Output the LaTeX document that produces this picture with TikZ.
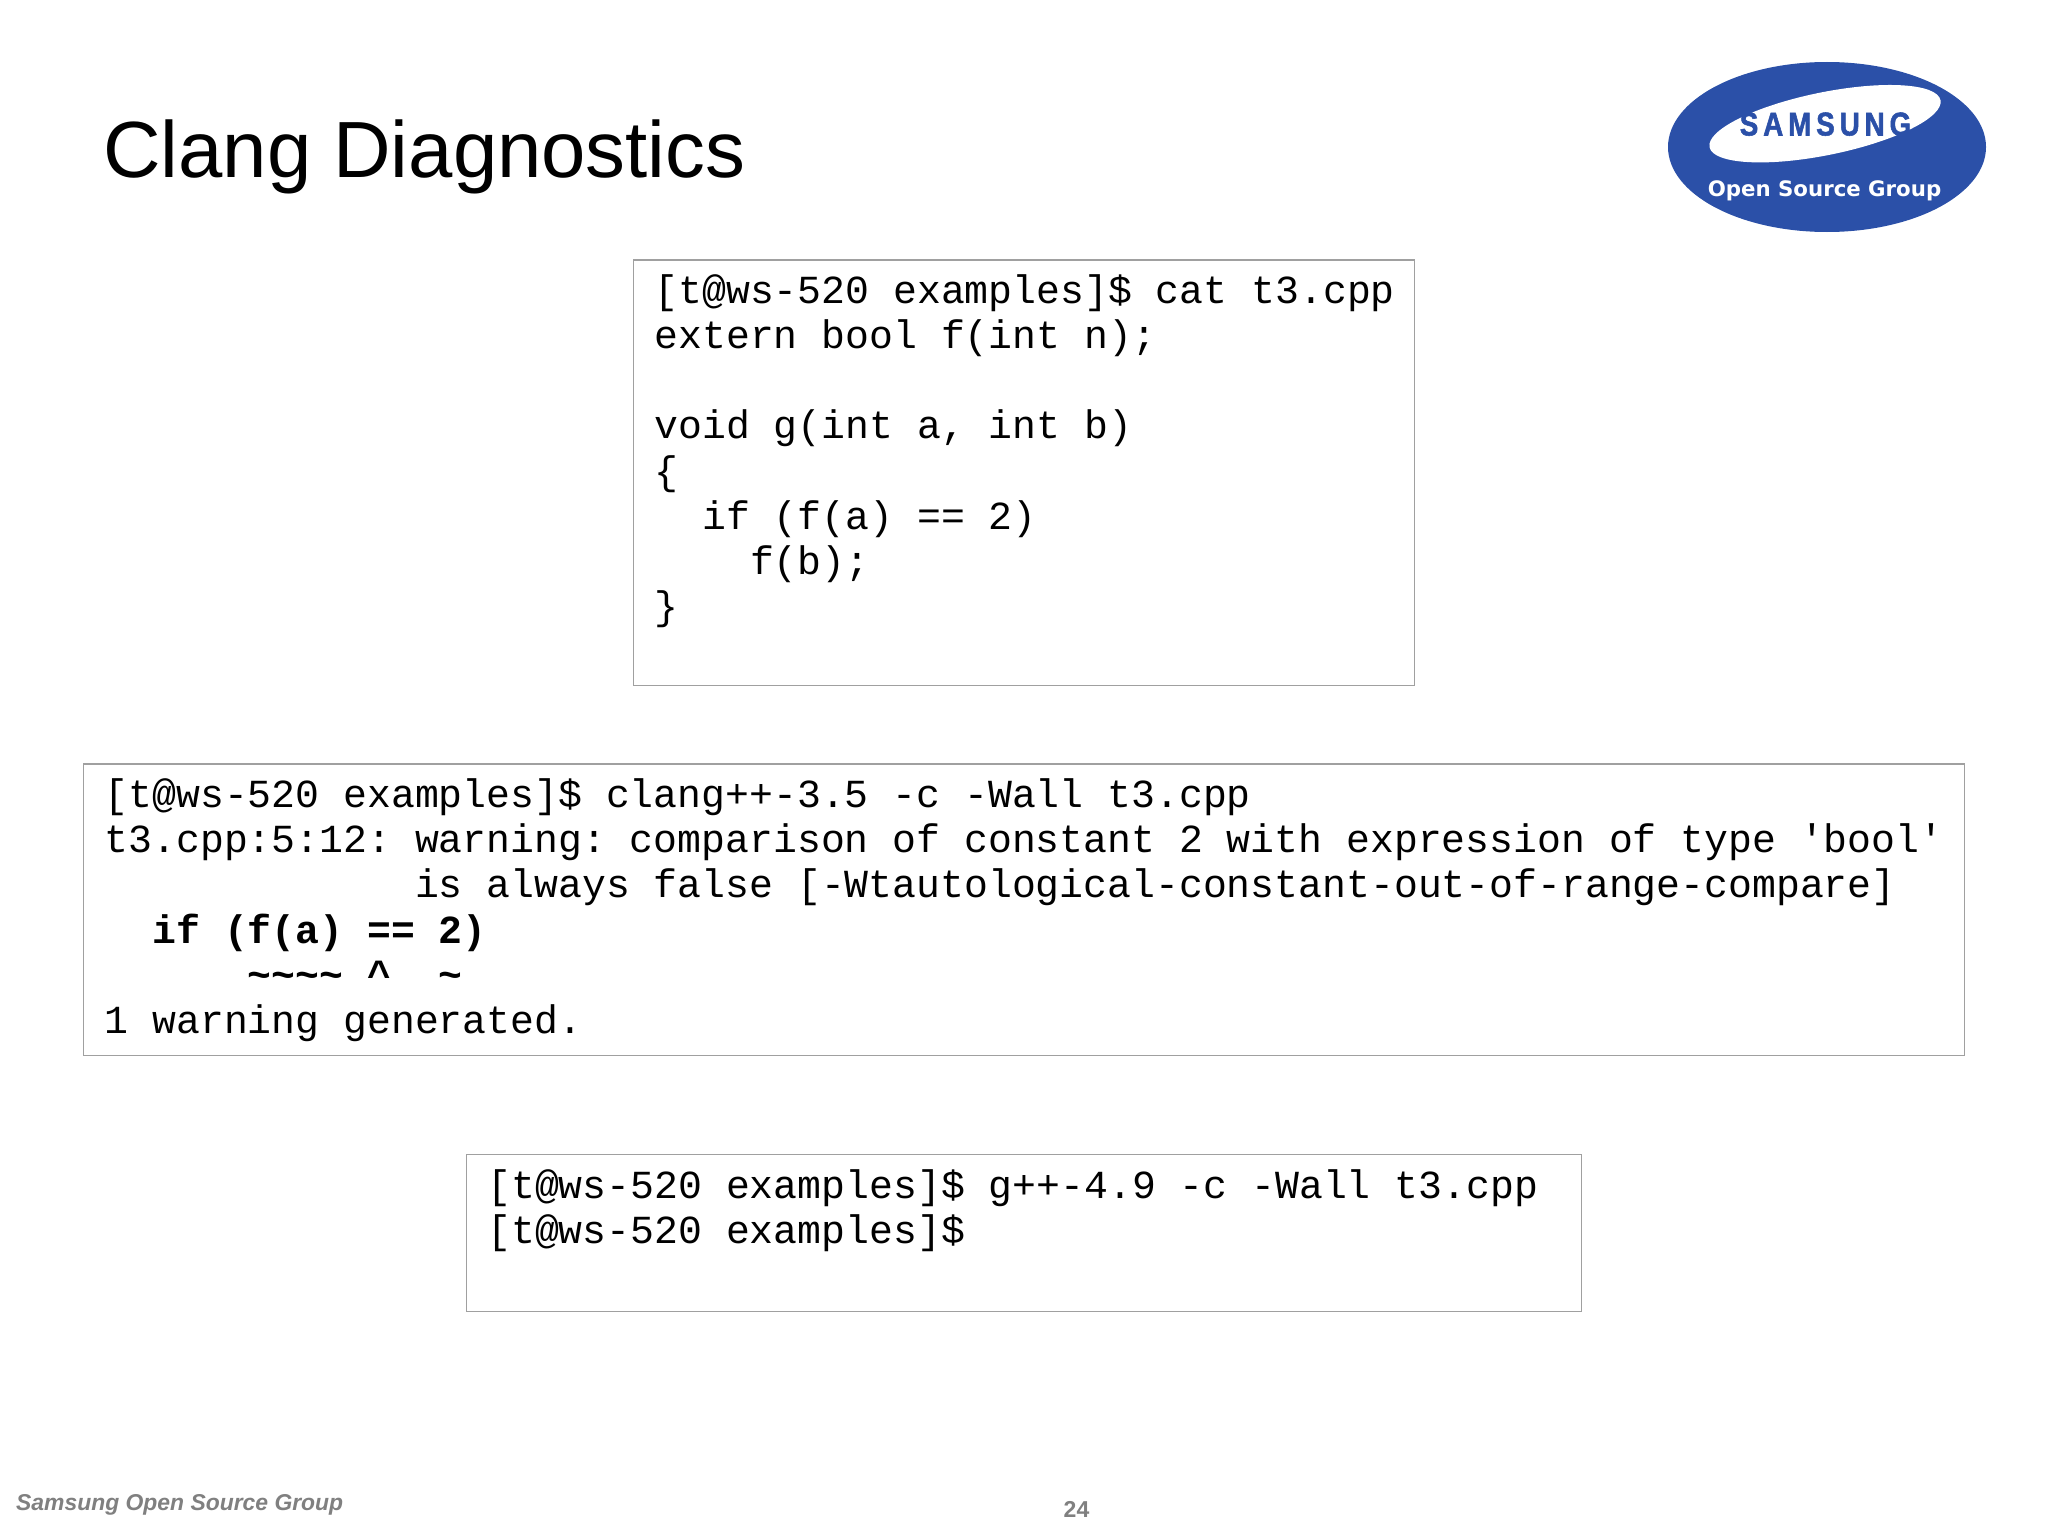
\documentclass[tikz,border=0pt]{standalone}
\usepackage{fontspec}
\usetikzlibrary{shapes.geometric}
\setmainfont{Liberation Sans}
\setmonofont{Liberation Mono}
\newfontfamily\logofont{DejaVu Sans}
\newfontfamily\brandfont[FakeStretch=0.84,LetterSpace=15,FakeBold=1.6]{Liberation Sans Bold}
\definecolor{logoblue}{HTML}{2B50A8}
\definecolor{boxgray}{HTML}{A0A0A0}
\definecolor{footgray}{HTML}{808080}
\newlength{\charw}
\setlength{\charw}{23.88pt}
\newcommand{\ind}[1]{\hspace*{#1\charw}}
\tikzset{
  x=1pt,y=-1pt,
  codebox/.style={draw=boxgray,line width=1.3pt,fill=white,anchor=north west,inner sep=0pt,outer sep=0pt},
  codetext/.style={anchor=north west,inner sep=0pt,outer sep=0pt,align=left,font=\fontsize{39.8}{45.05}\selectfont\ttfamily,text=black},
}
\begin{document}
\begin{tikzpicture}
\useasboundingbox (0,0) rectangle (2048,1536);
\fill[white] (0,0) rectangle (2048,1536);
% title
\node[anchor=base west,inner sep=0pt,font=\fontsize{79.7}{90}\selectfont] (title) at (103,177.5) {Clang Diagnostics};
% logo
\node[ellipse,fill=logoblue,minimum width=318pt,minimum height=170pt,inner sep=0pt] (logo) at (1827,147) {};
\node[ellipse,fill=white,minimum width=235.7pt,minimum height=62.8pt,inner sep=0pt,rotate=11.5] (swoosh) at (1825,123.7) {};
\node[anchor=base,inner sep=0pt,text=logoblue,font=\fontsize{33}{33}\selectfont\brandfont] (brand) at (1825.5,135.5) {SAMSUNG};
\node[anchor=base,inner sep=0pt,text=white,font=\fontsize{21.3}{22}\selectfont\logofont\bfseries] (osg) at (1824.5,196) {Open Source Group};
% box 1
\node[codebox,minimum width=781pt,minimum height=425.7pt] (b1) at (633.5,260) {};
\node[codetext] (t1) at ([shift={(21,15)}]b1.north west) {[t@ws-520 examples]\$ cat t3.cpp\\
extern bool f(int n);\\
\mbox{}\\
void g(int a, int b)\\
\{\\
\ind{2}if (f(a) == 2)\\
\ind{4}f(b);\\
\}};
% box 2
\node[codebox,minimum width=1880.8pt,minimum height=291.3pt] (b2) at (83.6,764) {};
\node[codetext] (t2) at ([shift={(21,15)}]b2.north west) {[t@ws-520 examples]\$ clang++-3.5 -c -Wall t3.cpp\\
t3.cpp:5:12: warning: comparison of constant 2 with expression of type 'bool'\\
\ind{13}is always false {[}-Wtautological-constant-out-of-range-compare]\\
\ind{2}\textbf{if (f(a) == 2)}\\
\ind{6}\textbf{\textasciitilde\textasciitilde\textasciitilde\textasciitilde{} \textasciicircum\ind{2}\textasciitilde}\\
1 warning generated.};
% box 3
\node[codebox,minimum width=1115.3pt,minimum height=156.7pt] (b3) at (466.3,1154.6) {};
\node[codetext] (t3) at ([shift={(21,15)}]b3.north west) {[t@ws-520 examples]\$ g++-4.9 -c -Wall t3.cpp\\{}%
[t@ws-520 examples]\$};
% footer
\node[anchor=base west,inner sep=0pt,text=footgray,font=\fontsize{22.9}{24}\selectfont\bfseries\itshape] (foot) at (16,1510.5) {Samsung Open Source Group};
\node[anchor=base,inner sep=0pt,text=footgray,font=\fontsize{23}{24}\selectfont\bfseries] (page) at (1076.5,1517) {24};
\end{tikzpicture}
\end{document}
